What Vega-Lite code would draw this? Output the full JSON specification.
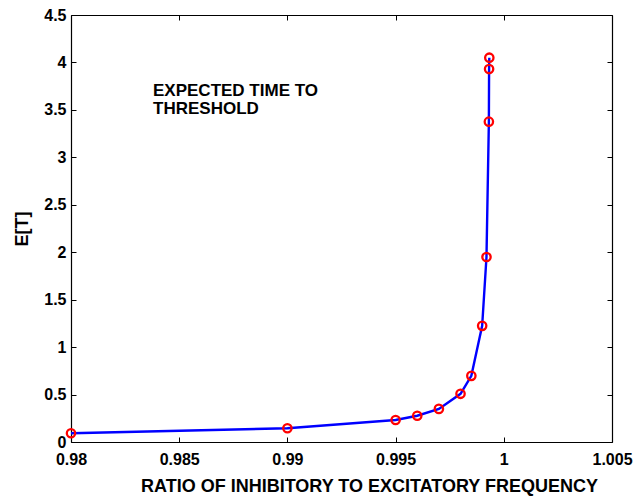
{
  "$schema": "https://vega.github.io/schema/vega-lite/v6.json",
  "width": 541,
  "height": 427,
  "autosize": "none",
  "padding": {"left": 71, "top": 15, "right": 25, "bottom": 54},
  "background": "white",
  "config": {
    "view": {"stroke": null},
    "font": "Liberation Sans",
    "axis": {
      "grid": false,
      "domainColor": "black",
      "domainWidth": 1.2,
      "tickColor": "black",
      "tickSize": -5,
      "tickWidth": 1,
      "labelFlush": false,
      "labelOverlap": false,
      "labelFont": "Liberation Sans",
      "labelFontWeight": "bold",
      "labelFontSize": 16,
      "labelColor": "black",
      "titleFont": "Liberation Sans",
      "titleFontWeight": "bold",
      "titleFontSize": 18,
      "titleColor": "black"
    }
  },
  "datasets": {
    "pts": [
      {"ratio": 0.98, "et": 0.092},
      {"ratio": 0.99, "et": 0.145},
      {"ratio": 0.995, "et": 0.232},
      {"ratio": 0.996, "et": 0.277},
      {"ratio": 0.997, "et": 0.349},
      {"ratio": 0.998, "et": 0.508},
      {"ratio": 0.9985, "et": 0.697},
      {"ratio": 0.999, "et": 1.224},
      {"ratio": 0.9992, "et": 1.95},
      {"ratio": 0.99931, "et": 3.376},
      {"ratio": 0.99932, "et": 3.93},
      {"ratio": 0.99933, "et": 4.05}
    ],
    "note": [
      {"ratio": 0.98379, "et": 3.65, "label": ["EXPECTED TIME TO", "THRESHOLD"]}
    ]
  },
  "layer": [
    {
      "data": {"name": "pts"},
      "mark": {"type": "line", "color": "#0000ff", "strokeWidth": 2.4},
      "encoding": {
        "x": {
          "field": "ratio", "type": "quantitative",
          "scale": {"domain": [0.98, 1.005], "nice": false, "zero": false},
          "axis": {"orient": "bottom", "values": [0.98, 0.985, 0.99, 0.995, 1, 1.005], "labelExpr": "format(datum.value, '~g')", "labelPadding": 14, "title": "RATIO OF INHIBITORY TO EXCITATORY FREQUENCY", "titlePadding": 10, "titleX": 298}
        },
        "y": {
          "field": "et", "type": "quantitative",
          "scale": {"domain": [0, 4.5], "nice": false},
          "axis": {"orient": "left", "values": [0, 0.5, 1, 1.5, 2, 2.5, 3, 3.5, 4, 4.5], "labelExpr": "format(datum.value, '~g')", "labelPadding": 10, "title": "E[T]", "titlePadding": 12}
        }
      }
    },
    {
      "data": {"name": "pts"},
      "mark": {"type": "point", "shape": "circle", "filled": false, "color": "#ff0000", "strokeWidth": 2.3, "size": 70, "opacity": 1},
      "encoding": {
        "x": {
          "field": "ratio", "type": "quantitative",
          "axis": {"orient": "top", "values": [0.98, 0.985, 0.99, 0.995, 1, 1.005], "labels": false, "title": null}
        },
        "y": {
          "field": "et", "type": "quantitative",
          "axis": {"orient": "right", "values": [0, 0.5, 1, 1.5, 2, 2.5, 3, 3.5, 4, 4.5], "labels": false, "title": null}
        }
      }
    },
    {
      "data": {"name": "note"},
      "mark": {"type": "text", "align": "left", "baseline": "alphabetic", "font": "Liberation Sans", "fontWeight": "bold", "fontSize": 17, "lineHeight": 18.5, "color": "black"},
      "encoding": {
        "x": {"field": "ratio", "type": "quantitative", "axis": null},
        "y": {"field": "et", "type": "quantitative", "axis": null},
        "text": {"field": "label"}
      }
    }
  ],
  "resolve": {"axis": {"x": "independent", "y": "independent"}}
}
